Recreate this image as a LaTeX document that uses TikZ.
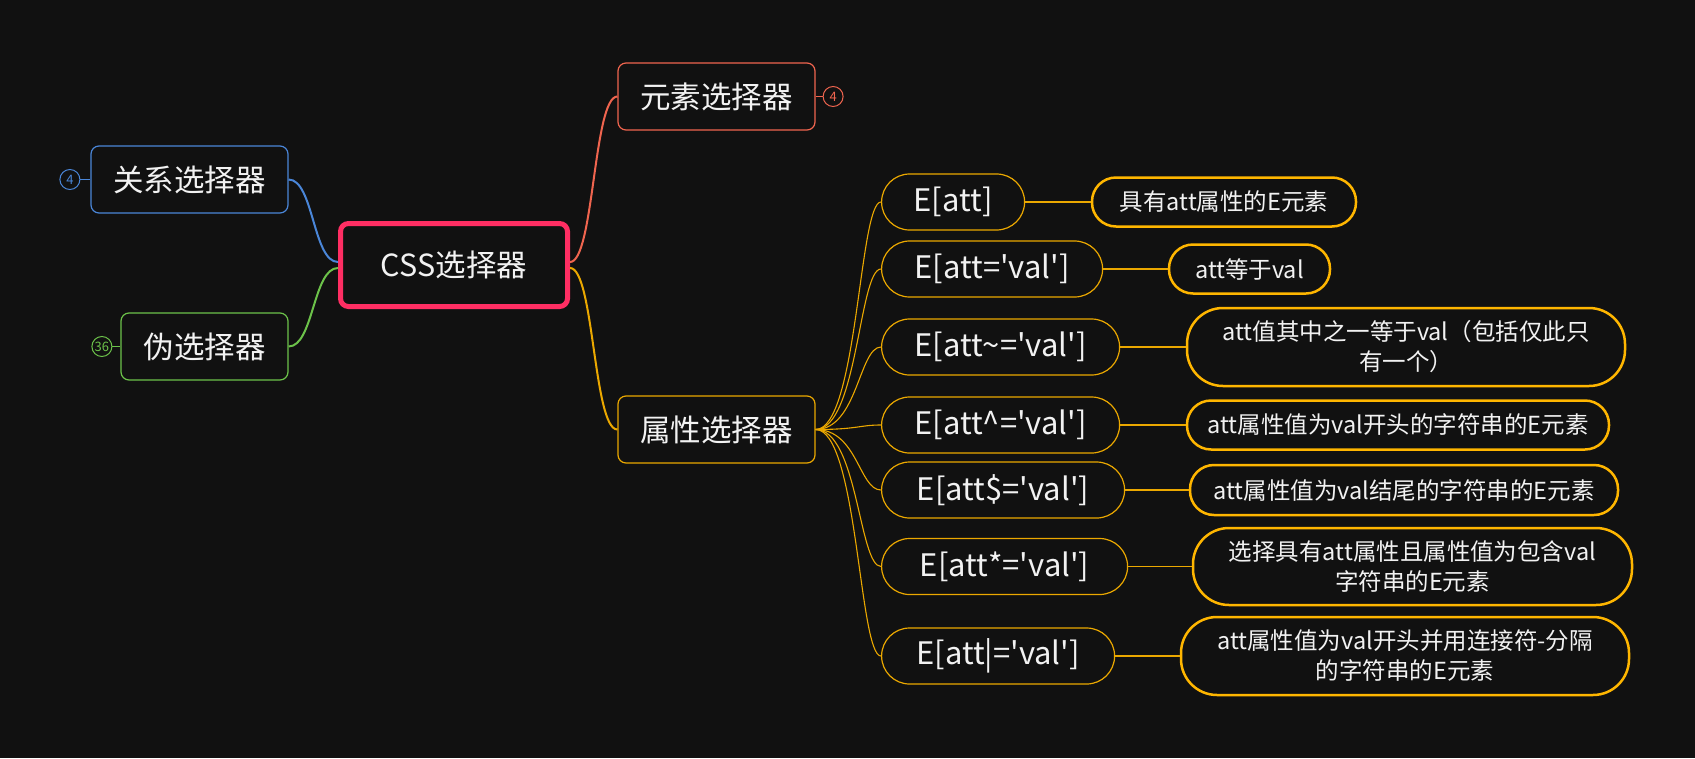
\documentclass[tikz,border=0pt]{standalone}
\usepackage{fontspec}
\setmainfont{Noto Sans CJK SC}
\usetikzlibrary{positioning}

\definecolor{bg}{HTML}{111111}
\definecolor{txt}{HTML}{F2F2F2}
\definecolor{cssred}{HTML}{FF2E63}
\definecolor{relblue}{HTML}{4A86D8}
\definecolor{pseugreen}{HTML}{6CC24A}
\definecolor{elemred}{HTML}{F0654F}
\definecolor{attrorange}{HTML}{EBA800}
\definecolor{descorange}{HTML}{FFB600}

\newcommand\quoteval{\textquotesingle val\textquotesingle}

\tikzset{
  topic/.style={draw, rounded corners=8pt, fill=bg, text=txt, line width=1.2pt,
    font=\fontsize{30.5}{36}\selectfont, minimum width=197pt, minimum height=67pt, inner sep=0pt},
  attr/.style={draw=attrorange, rounded corners=28pt, fill=bg, text=txt, line width=1.2pt,
    font=\fontsize{31}{34}\selectfont, minimum height=56pt, anchor=west, inner sep=0pt},
  desc/.style={draw=descorange, rounded corners=24pt, fill=bg, text=txt, line width=2.5pt,
    font=\fontsize{23.5}{30}\selectfont, align=center, minimum height=49pt, inner sep=0pt},
  badge/.style={circle, draw, fill=bg, minimum size=20pt, inner sep=0pt, line width=1pt,
    font=\fontsize{13}{13}\selectfont},
  link/.style={line width=2pt},
  twig/.style={draw=attrorange, line width=1.1pt}
}

\begin{document}
\begin{tikzpicture}[x=1pt,y=-1pt]
  \fill[bg] (0,0) rectangle (1695,758);
  \useasboundingbox (0,0) rectangle (1695,758);

  %中心主题
  \node[topic, draw=cssred, line width=5pt, minimum width=227pt, minimum height=83pt] (css) at (454,265) {CSS选择器};

  %左侧分支
  \node[topic, draw=relblue] (rel) at (189.5,179.5) {关系选择器};
  \node[topic, draw=pseugreen, minimum width=167pt] (pseudo) at (204.5,346.5) {伪选择器};
  \node[badge, draw=relblue, text=relblue, left=10pt of rel] (relnum) {4};
  \node[badge, draw=pseugreen, text=pseugreen, left=8pt of pseudo] (pseudonum) {36};
  \draw[relblue, line width=1pt] (relnum) -- (rel);
  \draw[pseugreen, line width=1pt] (pseudonum) -- (pseudo);

  %右侧分支
  \node[topic, draw=elemred] (elem) at (716.5,96.5) {元素选择器};
  \node[topic, draw=attrorange] (prop) at (716.5,429.5) {属性选择器};
  \node[badge, draw=elemred, text=elemred, right=7pt of elem] (elemnum) {4};
  \draw[elemred, line width=1pt] (elem) -- (elemnum);

  \draw[link, relblue] (rel.east) .. controls +(25,0) and +(-25,0) .. ([yshift=3pt]css.west);
  \draw[link, pseugreen] (pseudo.east) .. controls +(25,0) and +(-25,0) .. ([yshift=-3pt]css.west);
  \draw[link, elemred] ([yshift=3pt]css.east) .. controls +(24,0) and +(-24,0) .. (elem.west);
  \draw[link, attrorange] ([yshift=-3pt]css.east) .. controls +(24,0) and +(-24,0) .. (prop.west);

  %属性选择器
  \node[attr, minimum width=143pt] (a1) at (881,202) {E[att]};
  \node[attr, minimum width=221pt] (a2) at (881,269) {E[att=\quoteval]};
  \node[attr, minimum width=238pt] (a3) at (881,347) {E[att\textasciitilde=\quoteval]};
  \node[attr, minimum width=238pt] (a4) at (881,425) {E[att\textasciicircum=\quoteval]};
  \node[attr, minimum width=243pt] (a5) at (881,490) {E[att\$=\quoteval]};
  \node[attr, minimum width=246pt] (a6) at (881,566.5) {E[att*=\quoteval]};
  \node[attr, minimum width=233pt] (a7) at (881,656) {E[att|=\quoteval]};

  \node[desc, minimum width=264pt] (d1) at (1224,202) {具有att属性的E元素};
  \node[desc, minimum width=161pt] (d2) at (1249.5,269) {att等于val};
  \node[desc, minimum width=438pt, minimum height=78pt, rounded corners=36pt] (d3) at (1406,347) {att值其中之一等于val（包括仅此只\\有一个）};
  \node[desc, minimum width=422pt] (d4) at (1398,425) {att属性值为val开头的字符串的E元素};
  \node[desc, minimum width=428pt, minimum height=50pt] (d5) at (1404,490) {att属性值为val结尾的字符串的E元素};
  \node[desc, minimum width=439pt, minimum height=77pt, rounded corners=36pt] (d6) at (1412.5,566.5) {选择具有att属性且属性值为包含val\\字符串的E元素};
  \node[desc, minimum width=448pt, minimum height=78pt, rounded corners=36pt] (d7) at (1405,656) {att属性值为val开头并用连接符-分隔\\的字符串的E元素};

  \foreach \i in {1,...,7} {
    \draw[twig] (prop.east) .. controls +(42,0) and +(-22,0) .. (a\i.west);
    \draw[twig] (a\i.east) -- (d\i.west);
  }
\end{tikzpicture}
\end{document}
